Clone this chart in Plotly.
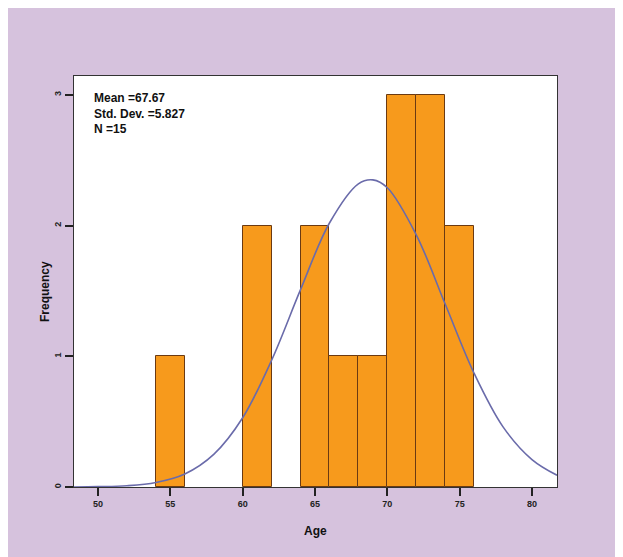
import plotly.graph_objects as go

# Histogram bins (bin centres, width 2 years) and counts
bin_centers = [55, 61, 65, 67, 69, 71, 73, 75]
counts = [1, 2, 2, 1, 1, 3, 3, 2]
bin_width = 2

# Normal curve
curve_x = [48.34, 50, 52, 54, 56, 58, 60, 62, 64, 66, 68, 69, 70, 72, 74, 76, 78, 80, 81.73]
curve_y = [0.0, 0.003, 0.01, 0.035, 0.10, 0.25, 0.53, 0.97, 1.51, 2.02, 2.32, 2.35, 2.29, 1.93, 1.40, 0.87, 0.46, 0.21, 0.09]

x_ticks = [50, 55, 60, 65, 70, 75, 80]
y_ticks = [0, 1, 2, 3]
stats_text = "Mean =67.67<br>Std. Dev. =5.827<br>N =15"
x_title = "Age"
y_title = "Frequency"

OFF = 8  # page margin offset
W, H = 623 - OFF, 557 - OFF
L, T = 74 - OFF, 76 - OFF
R = W - (557 - OFF)
B = H - (487 - OFF)
pw, ph = W - L - R, H - T - B

def px_x(p):
    return (p - OFF - L) / pw

def px_y(p):
    return (H - B - (p - OFF)) / ph

fig = go.Figure()
fig.add_trace(go.Bar(
    x=bin_centers, y=counts, width=[bin_width] * len(bin_centers),
    marker=dict(color="#F79A1C", line=dict(color="#6B3A12", width=1)),
    showlegend=False, hoverinfo="skip",
))
fig.add_trace(go.Scatter(
    x=curve_x, y=curve_y, mode="lines",
    line=dict(color="#6A6BAA", width=1.6, shape="spline"),
    showlegend=False, hoverinfo="skip",
))

font = "Liberation Sans, Arial, sans-serif"
fig.update_layout(
    width=W, height=H,
    margin=dict(l=L, r=R, t=T, b=B),
    paper_bgcolor="#D6C2DD",
    plot_bgcolor="white",
    bargap=0,
    font=dict(family=font, color="#111"),
    xaxis=dict(
        range=[48.34, 81.73], tickvals=x_ticks, ticktext=[str(v) for v in x_ticks],
        showgrid=False, zeroline=False,
        showline=True, mirror=True, linecolor="#333", linewidth=1,
        ticks="outside", ticklen=8, tickcolor="#222", tickwidth=1.5,
        tickfont=dict(size=9, family=font, color="#222", weight="bold"),
    ),
    yaxis=dict(
        range=[0, 3.145], tickvals=y_ticks, ticktext=[str(v) for v in y_ticks],
        showgrid=False, zeroline=False,
        showline=True, mirror=True, linecolor="#333", linewidth=1,
        ticks="outside", ticklen=8, tickcolor="#222", tickwidth=1.5,
        tickangle=-90,
        tickfont=dict(size=9, family=font, color="#222", weight="bold"),
    ),
    annotations=[
        dict(text=stats_text, xref="paper", yref="paper",
             x=px_x(92), y=px_y(89), xanchor="left", yanchor="top", align="left",
             showarrow=False, font=dict(size=12, family=font, color="#111", weight="bold")),
        dict(text=x_title, xref="paper", yref="paper",
             x=px_x(315), y=px_y(531), xanchor="center", yanchor="middle",
             showarrow=False, font=dict(size=12, family=font, color="#111", weight="bold")),
        dict(text=y_title, xref="paper", yref="paper",
             x=px_x(45), y=px_y(292), xanchor="center", yanchor="middle", textangle=-90,
             showarrow=False, font=dict(size=12, family=font, color="#111", weight="bold")),
    ],
)

fig.write_html("out.html")
